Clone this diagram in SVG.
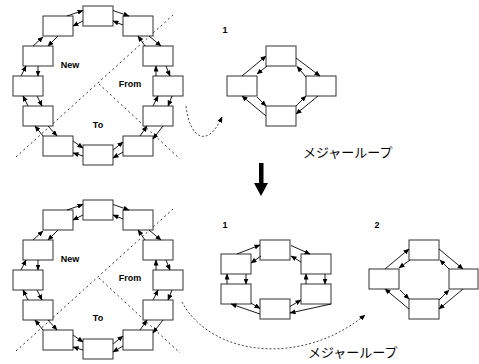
<svg xmlns="http://www.w3.org/2000/svg" width="479" height="364" viewBox="0 0 479 364">
<style>
.b{fill:#fff;stroke:#333;stroke-width:1}
.a{stroke:#000;stroke-width:0.9;fill:none;marker-end:url(#ah)}
.d{stroke:#333;stroke-width:1;fill:none;stroke-dasharray:2,3}
.c{stroke:#333;stroke-width:0.9;fill:none;stroke-dasharray:2,2;marker-end:url(#ah)}
.t{font-family:"Liberation Sans",Arial,sans-serif;font-size:9px;font-weight:bold;fill:#000}
.j{font-family:"Noto Sans CJK JP",sans-serif;font-size:13px;fill:#000}
</style>
<defs>
<marker id="ah" markerUnits="userSpaceOnUse" markerWidth="6" markerHeight="5" refX="5.5" refY="2.5" orient="auto">
<path d="M0,0 L6,2.5 L0,5 z" fill="#000"/>
</marker>
</defs>

<!-- dashed partition lines -->
<g id="partitions">
<line class="d" x1="16" y1="157" x2="173" y2="15"/>
<line class="d" x1="99" y1="84" x2="180" y2="159"/>
<line class="d" x1="16" y1="351" x2="173" y2="209"/>
<line class="d" x1="99" y1="278" x2="180" y2="353"/>
</g>

<!-- Top ring nodes -->
<g id="r1-T"><rect class="b" x="83" y="6" width="30" height="20"/></g>
<g id="r1-UL"><rect class="b" x="43" y="16" width="30" height="20"/></g>
<g id="r1-UR"><rect class="b" x="123" y="16" width="30" height="20"/></g>
<g id="r1-L2"><rect class="b" x="23" y="46" width="30" height="20"/></g>
<g id="r1-R2"><rect class="b" x="143" y="46" width="30" height="20"/></g>
<g id="r1-L3"><rect class="b" x="13" y="76" width="30" height="20"/></g>
<g id="r1-R3"><rect class="b" x="153" y="76" width="30" height="20"/></g>
<g id="r1-L4"><rect class="b" x="23" y="106" width="30" height="20"/></g>
<g id="r1-R4"><rect class="b" x="143" y="106" width="30" height="20"/></g>
<g id="r1-LL"><rect class="b" x="43" y="136" width="30" height="20"/></g>
<g id="r1-LR"><rect class="b" x="123" y="136" width="30" height="20"/></g>
<g id="r1-B"><rect class="b" x="83" y="145" width="30" height="20"/></g>

<!-- Bottom ring nodes -->
<g id="r2-T"><rect class="b" x="83" y="200" width="30" height="20"/></g>
<g id="r2-UL"><rect class="b" x="43" y="210" width="30" height="20"/></g>
<g id="r2-UR"><rect class="b" x="123" y="210" width="30" height="20"/></g>
<g id="r2-L2"><rect class="b" x="23" y="240" width="30" height="20"/></g>
<g id="r2-R2"><rect class="b" x="143" y="240" width="30" height="20"/></g>
<g id="r2-L3"><rect class="b" x="13" y="270" width="30" height="20"/></g>
<g id="r2-R3"><rect class="b" x="153" y="270" width="30" height="20"/></g>
<g id="r2-L4"><rect class="b" x="23" y="300" width="30" height="20"/></g>
<g id="r2-R4"><rect class="b" x="143" y="300" width="30" height="20"/></g>
<g id="r2-LL"><rect class="b" x="43" y="330" width="30" height="20"/></g>
<g id="r2-LR"><rect class="b" x="123" y="330" width="30" height="20"/></g>
<g id="r2-B"><rect class="b" x="83" y="339" width="30" height="20"/></g>

<!-- Top right loop 1 -->
<g id="m1-T"><rect class="b" x="266" y="46" width="30" height="20"/></g>
<g id="m1-L"><rect class="b" x="227" y="76" width="30" height="20"/></g>
<g id="m1-R"><rect class="b" x="306" y="76" width="30" height="20"/></g>
<g id="m1-B"><rect class="b" x="266" y="106" width="30" height="20"/></g>

<!-- Bottom loop 1 -->
<g id="n1-T"><rect class="b" x="260" y="240" width="30" height="20"/></g>
<g id="n1-UL"><rect class="b" x="221" y="254" width="30" height="20"/></g>
<g id="n1-UR"><rect class="b" x="301" y="254" width="30" height="20"/></g>
<g id="n1-LL"><rect class="b" x="221" y="284" width="30" height="20"/></g>
<g id="n1-LR"><rect class="b" x="301" y="284" width="30" height="20"/></g>
<g id="n1-B"><rect class="b" x="260" y="299" width="30" height="20"/></g>

<!-- Bottom loop 2 -->
<g id="n2-T"><rect class="b" x="409" y="240" width="30" height="20"/></g>
<g id="n2-L"><rect class="b" x="369" y="269" width="30" height="20"/></g>
<g id="n2-R"><rect class="b" x="449" y="269" width="29" height="20"/></g>
<g id="n2-B"><rect class="b" x="409" y="299" width="30" height="20"/></g>

<g id="connectors">
<!-- ring 1 outer -->
<line class="a" x1="67" y1="16" x2="83" y2="10.5"/>
<line class="a" x1="113" y1="10.5" x2="129" y2="16"/>
<line class="a" x1="33" y1="46" x2="43" y2="37"/>
<line class="a" x1="149" y1="36" x2="161" y2="46"/>
<line class="a" x1="21" y1="76" x2="26" y2="66"/>
<line class="a" x1="166" y1="66" x2="170" y2="76"/>
<line class="a" x1="28" y1="106" x2="23" y2="96"/>
<line class="a" x1="172" y1="96" x2="168" y2="106"/>
<line class="a" x1="43" y1="136" x2="35" y2="126"/>
<line class="a" x1="163" y1="126" x2="153" y2="139"/>
<line class="a" x1="83" y1="156" x2="73" y2="153"/>
<line class="a" x1="123" y1="152" x2="113" y2="158"/>
<!-- ring 1 inner -->
<line class="a" x1="83" y1="21" x2="73" y2="26"/>
<line class="a" x1="123" y1="25" x2="113" y2="21"/>
<line class="a" x1="58" y1="36" x2="48" y2="46"/>
<line class="a" x1="145" y1="46" x2="138" y2="36"/>
<line class="a" x1="38" y1="66" x2="38" y2="76"/>
<line class="a" x1="156" y1="76" x2="156" y2="66"/>
<line class="a" x1="37" y1="96" x2="42" y2="106"/>
<line class="a" x1="153" y1="106" x2="158" y2="96"/>
<line class="a" x1="48" y1="126" x2="57" y2="136"/>
<line class="a" x1="140" y1="136" x2="147" y2="126"/>
<line class="a" x1="73" y1="141" x2="83" y2="148"/>
<line class="a" x1="113" y1="150" x2="123" y2="142"/>

<!-- ring 2 outer -->
<line class="a" x1="67" y1="210" x2="83" y2="204.5"/>
<line class="a" x1="113" y1="204.5" x2="129" y2="210"/>
<line class="a" x1="33" y1="240" x2="43" y2="231"/>
<line class="a" x1="149" y1="230" x2="161" y2="240"/>
<line class="a" x1="21" y1="270" x2="26" y2="260"/>
<line class="a" x1="166" y1="260" x2="170" y2="270"/>
<line class="a" x1="28" y1="300" x2="23" y2="290"/>
<line class="a" x1="172" y1="290" x2="168" y2="300"/>
<line class="a" x1="43" y1="330" x2="35" y2="320"/>
<line class="a" x1="163" y1="320" x2="153" y2="333"/>
<line class="a" x1="83" y1="350" x2="73" y2="347"/>
<line class="a" x1="123" y1="346" x2="113" y2="352"/>
<!-- ring 2 inner -->
<line class="a" x1="83" y1="215" x2="73" y2="220"/>
<line class="a" x1="123" y1="219" x2="113" y2="215"/>
<line class="a" x1="58" y1="230" x2="48" y2="240"/>
<line class="a" x1="145" y1="240" x2="138" y2="230"/>
<line class="a" x1="38" y1="260" x2="38" y2="270"/>
<line class="a" x1="156" y1="270" x2="156" y2="260"/>
<line class="a" x1="37" y1="290" x2="42" y2="300"/>
<line class="a" x1="153" y1="300" x2="158" y2="290"/>
<line class="a" x1="48" y1="320" x2="57" y2="330"/>
<line class="a" x1="140" y1="330" x2="147" y2="320"/>
<line class="a" x1="73" y1="335" x2="83" y2="342"/>
<line class="a" x1="113" y1="344" x2="123" y2="336"/>

<!-- top loop 1 -->
<line class="a" x1="242" y1="76" x2="266" y2="56"/>
<line class="a" x1="267" y1="66" x2="257" y2="74"/>
<line class="a" x1="296" y1="58" x2="320" y2="76"/>
<line class="a" x1="306" y1="77" x2="297" y2="66.5"/>
<line class="a" x1="318" y1="96" x2="296" y2="114"/>
<line class="a" x1="296" y1="106" x2="306" y2="96"/>
<line class="a" x1="266" y1="116" x2="242" y2="96"/>
<line class="a" x1="257" y1="97" x2="266" y2="106"/>

<!-- bottom loop 1 -->
<line class="a" x1="237" y1="254" x2="260" y2="245"/>
<line class="a" x1="261" y1="256" x2="251" y2="263"/>
<line class="a" x1="291" y1="245.5" x2="310" y2="254"/>
<line class="a" x1="301" y1="262" x2="291" y2="256"/>
<line class="a" x1="325" y1="274" x2="325" y2="284"/>
<line class="a" x1="306" y1="284" x2="306" y2="274"/>
<line class="a" x1="331" y1="304" x2="290" y2="313"/>
<line class="a" x1="290" y1="306.5" x2="301" y2="300"/>
<line class="a" x1="260" y1="314" x2="231" y2="304"/>
<line class="a" x1="251" y1="303" x2="260" y2="308.5"/>
<line class="a" x1="227" y1="284" x2="227" y2="274"/>
<line class="a" x1="246" y1="274" x2="246" y2="284"/>

<!-- bottom loop 2 -->
<line class="a" x1="385" y1="269" x2="409" y2="249"/>
<line class="a" x1="410" y1="260" x2="399" y2="268"/>
<line class="a" x1="439" y1="249" x2="463" y2="269"/>
<line class="a" x1="449" y1="269" x2="440" y2="260"/>
<line class="a" x1="463" y1="289" x2="439" y2="309"/>
<line class="a" x1="439" y1="300" x2="449" y2="290"/>
<line class="a" x1="409" y1="309" x2="385" y2="289"/>
<line class="a" x1="400" y1="290" x2="409" y2="299"/>

<!-- major loop curves -->
<path class="c" d="M186,106 C190,140 208,148 222,117"/>
<path class="c" d="M182,302 C210,355 300,368 365,315"/>

<!-- big arrow -->
<rect x="259" y="163" width="4.5" height="22" fill="#000"/>
<polygon points="254,183 268,183 261,196" fill="#000"/>
</g>

<g id="labels">
<text class="t" x="70" y="68" text-anchor="middle">New</text>
<text class="t" x="130" y="87" text-anchor="middle">From</text>
<text class="t" x="98" y="128" text-anchor="middle">To</text>
<text class="t" x="70" y="262" text-anchor="middle">New</text>
<text class="t" x="130" y="281" text-anchor="middle">From</text>
<text class="t" x="98" y="321" text-anchor="middle">To</text>
<text class="t" x="225" y="33" text-anchor="middle">1</text>
<text class="t" x="225" y="228" text-anchor="middle">1</text>
<text class="t" x="377" y="228" text-anchor="middle">2</text>
<text class="j" x="303" y="157">メジャーループ</text>
<text class="j" x="308" y="357">メジャーループ</text>
</g>
</svg>
